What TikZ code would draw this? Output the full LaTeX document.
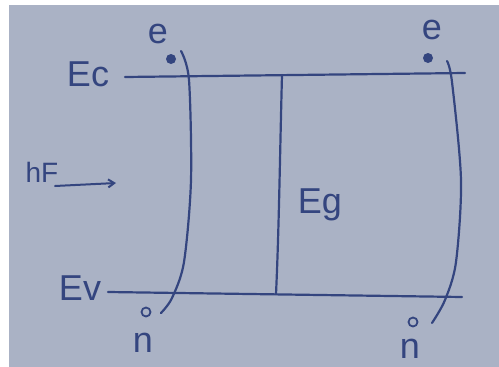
\documentclass[tikz,border=0pt]{standalone}
\usepackage{fontspec}
\setmainfont{Liberation Sans}
\usetikzlibrary{arrows.meta}
\definecolor{paper}{HTML}{AAB2C5}
\definecolor{ink}{HTML}{34457F}
\begin{document}
\begin{tikzpicture}[x=1pt,y=-1pt,
  pen/.style={draw=ink,line width=2.2pt,line cap=round,line join=round},
  lbl/.style={text=ink,inner sep=0pt,font=\fontsize{36}{36}\selectfont},
  small/.style={text=ink,inner sep=0pt,font=\fontsize{28}{28}\selectfont},
  electron/.style={circle,fill=ink,minimum size=10pt,inner sep=0pt},
  hole/.style={circle,draw=ink,line width=1.8pt,minimum size=9pt,inner sep=0pt}]
\useasboundingbox (0,0) rectangle (499,367);
\fill[white] (0,0) rectangle (499,367);
\fill[paper] (9,5) rectangle (499,367);
% band edges
\coordinate (ecL) at (125,77);
\coordinate (ecR) at (465,73);
\coordinate (evL) at (108,292);
\coordinate (evR) at (462,297);
\draw[pen] (ecL) -- (ecR);
\draw[pen] (evL) -- (evR);
% gap line
\coordinate (gT) at (282,75);
\coordinate (gB) at (276,294);
\draw[pen] (gT) .. controls (280,150) and (279,230) .. (gB);
% bent band curves
\draw[pen] plot[smooth] coordinates {(181,51) (189,80) (191,180) (184,262) (172,298) (161,313)};
\draw[pen] plot[smooth] coordinates {(447,61) (452,82) (461,180) (456,262) (445,300) (432,323)};
% labels
\node[lbl] (Ec) at (88,74) {Ec};
\node[lbl] (Ev) at (80,288) {Ev};
\node[small] (hF) at (42,172) {hF};
\node[lbl] (Eg) at (320,205) {Eg};
\node[lbl] (e1) at (158,34) {e};
\node[lbl] (e2) at (432,30) {e};
\node[lbl] (n1) at (143,343) {n};
\node[lbl] (n2) at (410,349) {n};
% carriers
\node[electron] (d1) at (171,59) {};
\node[electron] (d2) at (428,58) {};
\node[hole] (h1) at (146,312) {};
\node[hole] (h2) at (413,322) {};
% field arrow
\coordinate (a1) at (55,186);
\coordinate (a2) at (116,183);
\draw[pen,line width=2pt,-{Straight Barb[length=6pt,width=8pt]}] (a1) -- (a2);
\end{tikzpicture}
\end{document}
